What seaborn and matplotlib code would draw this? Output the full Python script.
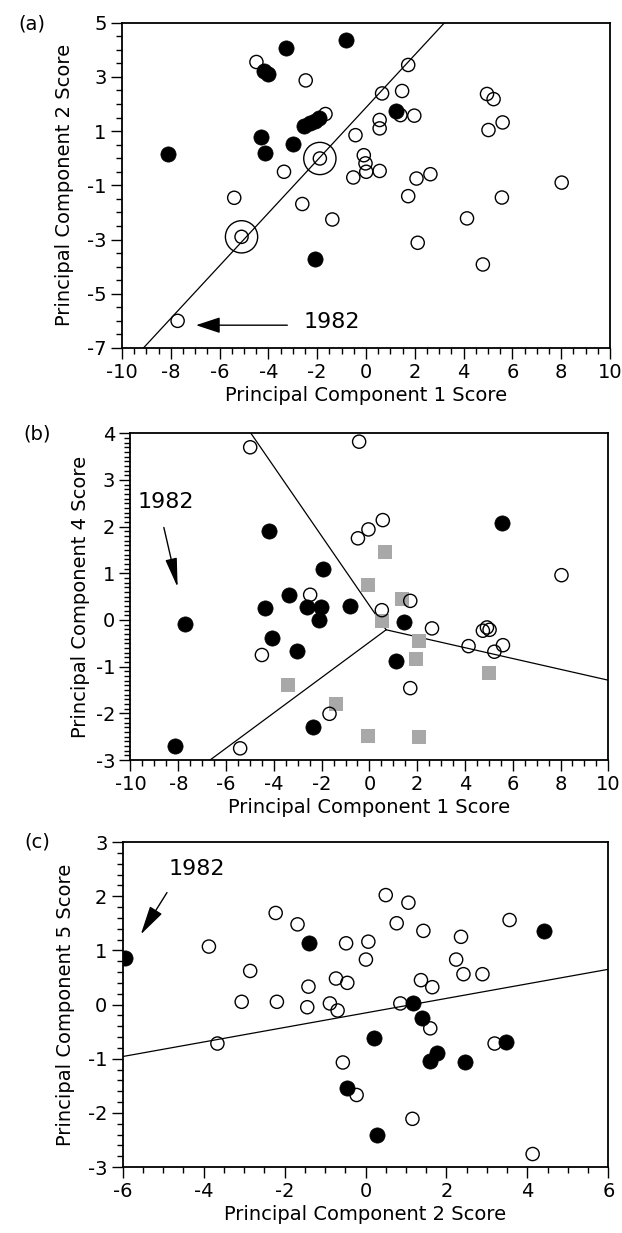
import numpy as np
import pandas as pd
import matplotlib
matplotlib.use("Agg")
import matplotlib.pyplot as plt
import seaborn as sns
from matplotlib.ticker import MultipleLocator

sns.set_theme(style="ticks")
plt.rcParams["font.family"] = ["DejaVu Sans"]
plt.rcParams["axes.unicode_minus"] = False
plt.rcParams["text.color"] = "black"
plt.rcParams["axes.labelcolor"] = "black"
plt.rcParams["xtick.color"] = "black"
plt.rcParams["ytick.color"] = "black"

# ---------------- (a) PC1 vs PC2 ----------------
a_open_pc1 = [-4.49, -2.47, 1.73, 0.66, 1.48, 4.96, 5.23, -1.66, 0.56, 0.56, 1.41, 1.98,
              5.60, 5.02, -0.43, -1.89, -3.36, -0.09, -0.02, 0.01, 0.56, -0.52, 2.07, 2.64,
              8.02, -5.40, -2.61, 1.73, 5.57, -1.38, 4.14, -5.10, 2.12, 4.79, -7.72]
a_open_pc2 = [3.55, 2.87, 3.44, 2.39, 2.48, 2.37, 2.18, 1.63, 1.41, 1.10, 1.59, 1.57,
              1.32, 1.04, 0.85, -0.01, -0.50, 0.11, -0.19, -0.50, -0.47, -0.71, -0.75, -0.59,
              -0.90, -1.46, -1.69, -1.40, -1.45, -2.26, -2.22, -2.90, -3.12, -3.92, -6.00]
a_filled_pc1 = [-0.81, -3.26, -4.20, -4.00, 1.21, -2.52, -2.30, -2.09, -1.93, -4.31, -4.15,
                -2.98, -8.11, -2.07]
a_filled_pc2 = [4.36, 4.08, 3.20, 3.10, 1.74, 1.19, 1.29, 1.38, 1.47, 0.79, 0.20,
                0.51, 0.15, -3.73]
a_ring_pc1 = [-1.89, -5.10]
a_ring_pc2 = [-0.01, -2.90]
a_line_pc1 = [-9.12, 3.22]
a_line_pc2 = [-7.0, 5.0]

# ---------------- (b) PC1 vs PC4 ----------------
b_open_pc1 = [-4.99, -0.43, -0.48, -0.04, 0.56, 8.04, -2.48, -4.50, 1.71, 0.52, 2.62, 4.15,
              4.75, 4.92, 5.03, 5.23, 5.59, 1.71, -1.67, -5.41]
b_open_pc4 = [3.70, 3.82, 1.75, 1.94, 2.14, 0.96, 0.54, -0.75, 0.41, 0.21, -0.18, -0.56,
              -0.23, -0.16, -0.21, -0.68, -0.54, -1.46, -2.01, -2.75]
b_filled_pc1 = [-4.19, 5.55, -1.95, -7.72, -8.14, -3.35, -4.37, -2.62, -2.03, -2.13, -0.83,
                -4.09, -3.01, 1.46, 1.12, -2.37]
b_filled_pc4 = [1.91, 2.08, 1.09, -0.09, -2.70, 0.54, 0.25, 0.28, 0.28, 0.00, 0.30,
                -0.38, -0.66, -0.04, -0.87, -2.29]
b_square_pc1 = [0.66, -0.04, 1.36, 0.52, 2.06, 1.96, 4.99, -3.39, -1.40, -0.04, 2.06]
b_square_pc4 = [1.46, 0.75, 0.44, -0.02, -0.44, -0.84, -1.14, -1.39, -1.80, -2.49, -2.50]
b_hub = (0.70, -0.21)
b_ends_pc1 = [-4.96, -6.67, 10.0]
b_ends_pc4 = [4.0, -3.0, -1.29]

# ---------------- (c) PC2 vs PC5 ----------------
c_open_pc2 = [-3.87, -2.22, -1.68, -0.48, 0.07, 0.01, 0.50, 1.06, 0.77, 1.43, 2.36, 3.56,
              -2.85, -1.41, -0.73, -0.45, 2.24, 2.42, 2.89, 1.37, 1.65, -3.06, -2.19, -1.44,
              -0.88, -0.69, 0.86, 1.60, -3.66, 3.19, -0.56, -0.22, 1.16, 4.13]
c_open_pc5 = [1.07, 1.69, 1.48, 1.13, 1.16, 0.83, 2.02, 1.88, 1.50, 1.36, 1.25, 1.56,
              0.62, 0.33, 0.48, 0.40, 0.83, 0.56, 0.56, 0.45, 0.32, 0.05, 0.05, -0.05,
              0.02, -0.11, 0.02, -0.44, -0.72, -0.72, -1.07, -1.67, -2.11, -2.76]
c_filled_pc2 = [-5.94, -1.39, 4.42, 1.18, 1.39, 0.20, 3.48, 1.76, 1.60, 2.46, -0.45, 0.28]
c_filled_pc5 = [0.85, 1.13, 1.36, 0.02, -0.25, -0.62, -0.69, -0.89, -1.04, -1.07, -1.55, -2.41]
c_line_pc2 = [-6.0, 6.0]
c_line_pc5 = [-0.96, 0.65]

FS = 14
OPEN_S = 90
FILL_S = 120
W, H = 622, 1233


def open_points(ax, x, y, s=OPEN_S):
    sns.scatterplot(x=x, y=y, ax=ax, s=s, marker="o", color="white",
                    edgecolor="black", linewidth=1.0, zorder=3, legend=False)
    ax.collections[-1].set_facecolor("none")


def filled_points(ax, x, y):
    sns.scatterplot(x=x, y=y, ax=ax, s=FILL_S, marker="o", color="black",
                    edgecolor="black", linewidth=0.5, zorder=4, legend=False)


def style_axes(ax, xlim, ylim, xmajor, ymajor, xminor, yminor, xlabel, ylabel, ylab_x):
    ax.set_xlim(*xlim)
    ax.set_ylim(*ylim)
    ax.set_xticks(xmajor)
    ax.set_yticks(ymajor)
    ax.xaxis.set_minor_locator(MultipleLocator(xminor))
    ax.yaxis.set_minor_locator(MultipleLocator(yminor))
    ax.tick_params(which="major", direction="out", length=8, width=1.0,
                   labelsize=FS, pad=3)
    ax.tick_params(which="minor", direction="out", length=4, width=1.0)
    for sp in ax.spines.values():
        sp.set_visible(True)
        sp.set_linewidth(1.3)
        sp.set_color("black")
    ax.set_xlabel(xlabel, fontsize=FS, labelpad=3)
    ax.set_ylabel(ylabel, fontsize=FS, labelpad=4)
    ax.yaxis.set_label_coords(ylab_x, 0.5)


fig = plt.figure(figsize=(W / 100, H / 100), dpi=100)
fig.patch.set_facecolor("white")

# ---- panel (a)
ax_a = fig.add_axes([0.1961, 0.7178, 0.7846, 0.2638])
sns.lineplot(x=a_line_pc1, y=a_line_pc2, ax=ax_a, color="black", linewidth=0.9,
             zorder=2, legend=False)
open_points(ax_a, a_open_pc1, a_open_pc2)
open_points(ax_a, a_ring_pc1, a_ring_pc2, s=540)
filled_points(ax_a, a_filled_pc1, a_filled_pc2)
ax_a.annotate("", xy=(-7.08, -6.16), xytext=(-3.11, -6.16),
              arrowprops=dict(arrowstyle="-|>,head_length=1.0,head_width=0.33",
                              mutation_scale=15, color="black", lw=1.0))
ax_a.text(-1.39, -6.05, "1982", fontsize=16, ha="center", va="center")
style_axes(ax_a, (-10, 10), (-7, 5), np.arange(-10, 11, 2), np.arange(-7, 6, 2),
           0.5, 0.5, "Principal Component 1 Score", "Principal Component 2 Score", -0.098)
fig.text(32 / W, 1 - 24 / H, "(a)", fontsize=FS, ha="center", va="center")

# ---- panel (b)
ax_b = fig.add_axes([0.2098, 0.3836, 0.7682, 0.2650])
for ex, ey in zip(b_ends_pc1, b_ends_pc4):
    sns.lineplot(x=[b_hub[0], ex], y=[b_hub[1], ey], ax=ax_b, color="black",
                 linewidth=0.9, zorder=2, legend=False)
sns.scatterplot(x=b_square_pc1, y=b_square_pc4, ax=ax_b, s=90, marker="s",
                color="#a8a8a8", edgecolor="#a8a8a8", linewidth=0, zorder=2.5, legend=False)
open_points(ax_b, b_open_pc1, b_open_pc4)
filled_points(ax_b, b_filled_pc1, b_filled_pc4)
ax_b.annotate("", xy=(-8.0, 0.64), xytext=(-8.63, 2.04),
              arrowprops=dict(arrowstyle="-|>,head_length=0.9,head_width=0.18",
                              mutation_scale=20, color="black", lw=1.0))
ax_b.text(-8.52, 2.53, "1982", fontsize=16, ha="center", va="center")
style_axes(ax_b, (-10, 10), (-3, 4), np.arange(-10, 11, 2), np.arange(-3, 5, 1),
           0.5, 0.1, "Principal Component 1 Score", "Principal Component 4 Score", -0.085)
fig.text(37 / W, 1 - 434 / H, "(b)", fontsize=FS, ha="center", va="center")

# ---- panel (c)
ax_c = fig.add_axes([0.1973, 0.0535, 0.7807, 0.2636])
sns.lineplot(x=c_line_pc2, y=c_line_pc5, ax=ax_c, color="black", linewidth=0.9,
             zorder=2, legend=False)
open_points(ax_c, c_open_pc2, c_open_pc5)
filled_points(ax_c, c_filled_pc2, c_filled_pc5)
ax_c.annotate("", xy=(-5.59, 1.25), xytext=(-4.87, 2.11),
              arrowprops=dict(arrowstyle="-|>,head_length=0.9,head_width=0.22",
                              mutation_scale=20, color="black", lw=1.0))
ax_c.text(-4.18, 2.50, "1982", fontsize=16, ha="center", va="center")
style_axes(ax_c, (-6, 6), (-3, 3), np.arange(-6, 7, 2), np.arange(-3, 4, 1),
           0.5, 0.2, "Principal Component 2 Score", "Principal Component 5 Score", -0.098)
fig.text(37 / W, 1 - 842 / H, "(c)", fontsize=FS, ha="center", va="center")

fig.savefig("out.png", dpi=100, facecolor="white")
